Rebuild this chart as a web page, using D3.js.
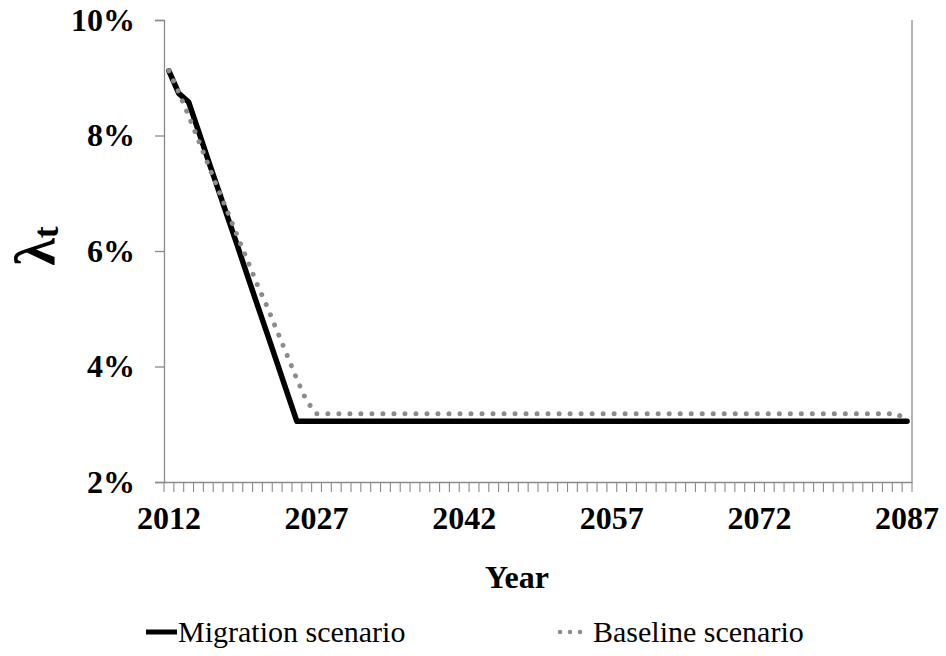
<!DOCTYPE html>
<html>
<head>
<meta charset="utf-8">
<script src="https://cdn.jsdelivr.net/npm/d3@7"></script>
<style>
  html, body { margin: 0; padding: 0; background: #fff; }
  svg { display: block; }
  text { font-family: "Liberation Serif", Tinos, "Times New Roman", Times, "Nimbus Roman", "Nimbus Roman No9 L", FreeSerif, "DejaVu Serif", serif; fill: #000; }
</style>
</head>
<body>
<svg id="chart" width="946" height="656"></svg>
<script>
// Years on the category axis
const years = [
  2012, 2013, 2014, 2015, 2016, 2017, 2018, 2019, 2020, 2021,
  2022, 2023, 2024, 2025, 2026, 2027, 2028, 2029, 2030, 2031,
  2032, 2033, 2034, 2035, 2036, 2037, 2038, 2039, 2040, 2041,
  2042, 2043, 2044, 2045, 2046, 2047, 2048, 2049, 2050, 2051,
  2052, 2053, 2054, 2055, 2056, 2057, 2058, 2059, 2060, 2061,
  2062, 2063, 2064, 2065, 2066, 2067, 2068, 2069, 2070, 2071,
  2072, 2073, 2074, 2075, 2076, 2077, 2078, 2079, 2080, 2081,
  2082, 2083, 2084, 2085, 2086, 2087
];

// λt under the migration scenario (%)
const migration = [
  9.12, 8.73, 8.58, 8.08, 7.57, 7.07, 6.57, 6.07, 5.56, 5.06,
  4.56, 4.06, 3.55, 3.05, 3.05, 3.05, 3.05, 3.05, 3.05, 3.05,
  3.05, 3.05, 3.05, 3.05, 3.05, 3.05, 3.05, 3.05, 3.05, 3.05,
  3.05, 3.05, 3.05, 3.05, 3.05, 3.05, 3.05, 3.05, 3.05, 3.05,
  3.05, 3.05, 3.05, 3.05, 3.05, 3.05, 3.05, 3.05, 3.05, 3.05,
  3.05, 3.05, 3.05, 3.05, 3.05, 3.05, 3.05, 3.05, 3.05, 3.05,
  3.05, 3.05, 3.05, 3.05, 3.05, 3.05, 3.05, 3.05, 3.05, 3.05,
  3.05, 3.05, 3.05, 3.05, 3.05, 3.05
];

// λt under the baseline scenario (%)
const baseline = [
  9.12, 8.75, 8.34, 7.92, 7.49, 7.07, 6.66, 6.24, 5.83, 5.41,
  5.03, 4.61, 4.20, 3.78, 3.40, 3.18, 3.18, 3.18, 3.18, 3.18,
  3.18, 3.18, 3.18, 3.18, 3.18, 3.18, 3.18, 3.18, 3.18, 3.18,
  3.18, 3.18, 3.18, 3.18, 3.18, 3.18, 3.18, 3.18, 3.18, 3.18,
  3.18, 3.18, 3.18, 3.18, 3.18, 3.18, 3.18, 3.18, 3.18, 3.18,
  3.18, 3.18, 3.18, 3.18, 3.18, 3.18, 3.18, 3.18, 3.18, 3.18,
  3.18, 3.18, 3.18, 3.18, 3.18, 3.18, 3.18, 3.18, 3.18, 3.18,
  3.18, 3.18, 3.18, 3.18, 3.18, 3.05
];

const yTicks = [0.02, 0.04, 0.06, 0.08, 0.10];
const xLabelYears = [2012, 2027, 2042, 2057, 2072, 2087];
const seriesNames = ["Migration scenario", "Baseline scenario"];

const serif = '"Liberation Serif", Tinos, "Times New Roman", Times, "Nimbus Roman", "Nimbus Roman No9 L", FreeSerif, "DejaVu Serif", serif';

const svg = d3.select("#chart");
const plot = { left: 164, right: 912, top: 20, bottom: 482 };
const axisColor = "#8a8a8a";

const x = d3.scaleBand()
  .domain(years)
  .range([plot.left, plot.right])
  .paddingInner(0)
  .paddingOuter(0);

const y = d3.scaleLinear()
  .domain([0.02, 0.10])
  .range([plot.bottom, plot.top]);

const cx = d => x(d) + x.bandwidth() / 2;

// Right edge of the plot area
svg.append("line")
  .attr("x1", plot.right).attr("x2", plot.right)
  .attr("y1", plot.top).attr("y2", plot.bottom)
  .attr("stroke", "#6f6f6f").attr("stroke-width", 1);

// Y axis
const yAxis = svg.append("g")
  .attr("transform", `translate(${plot.left},0)`)
  .attr("font-family", serif)
  .call(d3.axisLeft(y).tickValues(yTicks).tickFormat(d3.format(".0%")).tickSize(9).tickPadding(20));
yAxis.attr("font-family", serif);
yAxis.select(".domain").attr("stroke", axisColor).attr("stroke-width", 1.3);
yAxis.selectAll(".tick line").attr("stroke", axisColor).attr("stroke-width", 1.3);
yAxis.selectAll(".tick text")
  .style("font-family", serif)
  .attr("font-weight", "bold")
  .attr("font-size", 32)
  .attr("fill", "#000");

// X axis: labels every 15 years, minor ticks at every category boundary
const xAxis = svg.append("g")
  .attr("transform", `translate(0,${plot.bottom})`)
  .call(d3.axisBottom(x).tickValues(xLabelYears).tickSize(0).tickPadding(24));
xAxis.attr("font-family", serif);
xAxis.select(".domain").attr("stroke", axisColor).attr("stroke-width", 1.3);
xAxis.selectAll(".tick text")
  .style("font-family", serif)
  .attr("font-weight", "bold")
  .attr("font-size", 32)
  .attr("fill", "#000");

const boundaries = years.map(d => x(d)).concat([x(years[years.length - 1]) + x.bandwidth()]);
xAxis.selectAll("line.minor")
  .data(boundaries)
  .join("line")
  .attr("class", "minor")
  .attr("x1", d => d).attr("x2", d => d)
  .attr("y1", 0).attr("y2", 10)
  .attr("stroke", axisColor).attr("stroke-width", 1.1);

// Series lines
const line = d3.line()
  .x((d, i) => cx(years[i]))
  .y(d => y(d / 100));

svg.append("path")
  .datum(migration)
  .attr("d", line)
  .attr("fill", "none")
  .attr("stroke", "#000")
  .attr("stroke-width", 5.5)
  .attr("stroke-linejoin", "round")
  .attr("stroke-linecap", "round");

svg.append("path")
  .datum(baseline)
  .attr("d", line)
  .attr("fill", "none")
  .attr("stroke", "#8c8c8c")
  .attr("stroke-width", 5)
  .attr("stroke-dasharray", "0.01 11")
  .attr("stroke-linecap", "round");

// Axis titles
svg.append("text")
  .attr("x", 517).attr("y", 588)
  .attr("text-anchor", "middle")
  .style("font-family", serif)
  .attr("font-weight", "bold")
  .attr("font-size", 32)
  .text("Year");

const yTitle = svg.append("text")
  .attr("transform", "translate(54,246) rotate(-90)")
  .attr("text-anchor", "middle")
  .style("font-family", serif)
  .attr("font-weight", "bold")
  .attr("font-size", 56);
yTitle.append("tspan").text("λ");
yTitle.append("tspan").attr("font-size", 36).attr("dy", 4).text("t");

// Legend
const legend = svg.append("g").style("font-family", serif);
legend.append("line")
  .attr("x1", 146).attr("x2", 177).attr("y1", 632).attr("y2", 632)
  .attr("stroke", "#000").attr("stroke-width", 5);
legend.append("text")
  .attr("x", 178).attr("y", 642)
  .style("font-family", serif)
  .attr("font-size", 30)
  .text(seriesNames[0]);

legend.append("line")
  .attr("x1", 560).attr("x2", 588).attr("y1", 632).attr("y2", 632)
  .attr("stroke", "#8c8c8c").attr("stroke-width", 4.5)
  .attr("stroke-dasharray", "0.01 10")
  .attr("stroke-linecap", "round");
legend.append("text")
  .attr("x", 593).attr("y", 642)
  .style("font-family", serif)
  .attr("font-size", 30)
  .text(seriesNames[1]);
</script>
</body>
</html>
